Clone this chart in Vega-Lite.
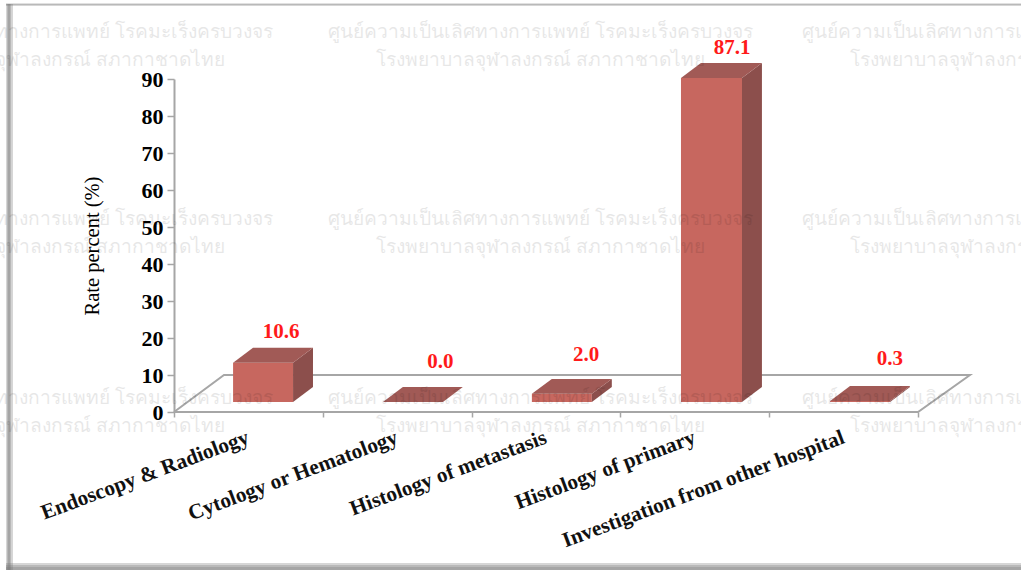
{
"$schema":"https://vega.github.io/schema/vega-lite/v6.json",
"width":847,"height":333,
"autosize":{"type":"none"},
"padding":{"left":174,"top":79,"right":0,"bottom":158},
"background":"white",
"view":{"stroke":null},
"datasets":{
"bars":[
{"category":"Endoscopy & Radiology","value":10.6,"left":0.397,"right":0.8,"base":2.7,"top":13.3,"labelX":0.72,"labelTop":21.5,"tickX":0.5,"catY":-6.8},
{"category":"Cytology or Hematology","value":0.0,"left":1.404,"right":1.807,"base":2.7,"top":2.7,"labelX":1.79,"labelTop":13.4,"tickX":1.5,"catY":-6.8},
{"category":"Histology of metastasis","value":2.0,"left":2.405,"right":2.808,"base":2.7,"top":4.9,"labelX":2.77,"labelTop":15.3,"tickX":2.5,"catY":-6.8},
{"category":"Histology of primary","value":87.1,"left":3.407,"right":3.817,"base":2.7,"top":90.3,"labelX":3.75,"labelTop":98.4,"tickX":3.5,"catY":-6.8},
{"category":"Investigation from other hospital","value":0.3,"left":4.409,"right":4.812,"base":2.7,"top":3.0,"labelX":4.81,"labelTop":14.4,"tickX":4.5,"catY":-6.8}
],
"side":[
{"bar":"a","x":0.8,"low":2.7,"high":13.3},{"bar":"a","x":0.934,"low":6.75,"high":17.35},
{"bar":"b","x":1.807,"low":2.7,"high":2.7},{"bar":"b","x":1.941,"low":6.75,"high":6.75},
{"bar":"c","x":2.808,"low":2.7,"high":4.9},{"bar":"c","x":2.942,"low":6.75,"high":8.95},
{"bar":"d","x":3.817,"low":2.7,"high":90.3},{"bar":"d","x":3.951,"low":6.75,"high":94.35},
{"bar":"e","x":4.812,"low":2.7,"high":3.0},{"bar":"e","x":4.946,"low":6.75,"high":7.05}
],
"topFace":[
{"bar":"a","y":13.3,"from":0.397,"to":0.8},{"bar":"a","y":17.35,"from":0.531,"to":0.934},
{"bar":"b","y":2.7,"from":1.404,"to":1.807},{"bar":"b","y":6.75,"from":1.538,"to":1.941},
{"bar":"c","y":4.9,"from":2.405,"to":2.808},{"bar":"c","y":8.95,"from":2.539,"to":2.942},
{"bar":"d","y":90.3,"from":3.407,"to":3.817},{"bar":"d","y":94.35,"from":3.541,"to":3.951},
{"bar":"e","y":3.0,"from":4.409,"to":4.812},{"bar":"e","y":7.05,"from":4.543,"to":4.946}
],
"floor":[
{"o":1,"x":0,"y":0},{"o":2,"x":0.336,"y":10},{"o":3,"x":5.349,"y":10},{"o":4,"x":5,"y":0},{"o":5,"x":0,"y":0}
],
"frame":[
{"x":-1.129,"x2":-1.082,"y":110.3,"y2":-42.7},
{"x":-1.122,"x2":-1.095,"y":110.3,"y2":-42.7},
{"x":-1.116,"x2":-1.102,"y":110.3,"y2":-42.7},
{"x":-1.129,"x2":5.692,"y":-40.8,"y2":-42.7},
{"x":-1.129,"x2":5.692,"y":-41.35,"y2":-42.7},
{"x":-1.129,"x2":5.692,"y":-41.9,"y2":-42.7},
{"x":-1.129,"x2":5.692,"y":110.5,"y2":109.7},
{"x":-1.129,"x2":5.692,"y":110.3,"y2":110.0}
],
"watermarks":[
{"t":"ศูนย์ความเป็นเลิศทางการแพทย์ โรคมะเร็งครบวงจร","x":-0.766,"y":102.7},
{"t":"โรงพยาบาลจุฬาลงกรณ์ สภากาชาดไทย","x":-0.766,"y":95.1},
{"t":"ศูนย์ความเป็นเลิศทางการแพทย์ โรคมะเร็งครบวงจร","x":2.466,"y":102.7},
{"t":"โรงพยาบาลจุฬาลงกรณ์ สภากาชาดไทย","x":2.466,"y":95.1},
{"t":"ศูนย์ความเป็นเลิศทางการแพทย์ โรคมะเร็งครบวงจร","x":5.645,"y":102.7},
{"t":"โรงพยาบาลจุฬาลงกรณ์ สภากาชาดไทย","x":5.645,"y":95.1},
{"t":"ศูนย์ความเป็นเลิศทางการแพทย์ โรคมะเร็งครบวงจร","x":-0.766,"y":52.2},
{"t":"โรงพยาบาลจุฬาลงกรณ์ สภากาชาดไทย","x":-0.766,"y":44.6},
{"t":"ศูนย์ความเป็นเลิศทางการแพทย์ โรคมะเร็งครบวงจร","x":2.466,"y":52.2},
{"t":"โรงพยาบาลจุฬาลงกรณ์ สภากาชาดไทย","x":2.466,"y":44.6},
{"t":"ศูนย์ความเป็นเลิศทางการแพทย์ โรคมะเร็งครบวงจร","x":5.645,"y":52.2},
{"t":"โรงพยาบาลจุฬาลงกรณ์ สภากาชาดไทย","x":5.645,"y":44.6},
{"t":"ศูนย์ความเป็นเลิศทางการแพทย์ โรคมะเร็งครบวงจร","x":-0.766,"y":3.8},
{"t":"โรงพยาบาลจุฬาลงกรณ์ สภากาชาดไทย","x":-0.766,"y":-3.8},
{"t":"ศูนย์ความเป็นเลิศทางการแพทย์ โรคมะเร็งครบวงจร","x":2.466,"y":3.8},
{"t":"โรงพยาบาลจุฬาลงกรณ์ สภากาชาดไทย","x":2.466,"y":-3.8},
{"t":"ศูนย์ความเป็นเลิศทางการแพทย์ โรคมะเร็งครบวงจร","x":5.645,"y":3.8},
{"t":"โรงพยาบาลจุฬาลงกรณ์ สภากาชาดไทย","x":5.645,"y":-3.8}
]
},
"layer":[
{"data":{"name":"frame"},"mark":{"type":"rect","fill":"#777777","opacity":0.3},
 "encoding":{"x":{"field":"x","type":"quantitative","scale":{"domain":[0,5.692],"nice":false,"zero":false},
   "axis":{"values":[0,1,2,3,4,5],"labels":false,"title":null,"grid":false,"domain":false,"ticks":true,"tickColor":"#a6a6a6","tickWidth":1.5,"tickSize":5}},
  "x2":{"field":"x2"},
  "y":{"field":"y","type":"quantitative","scale":{"domain":[0,90],"nice":false},
   "axis":{"values":[0,10,20,30,40,50,60,70,80,90],"labelOverlap":false,"grid":false,"title":"Rate percent (%)","titleFont":"Liberation Serif","titleFontSize":20.5,"titleFontWeight":"normal","titleColor":"black","titlePadding":39,"labelFont":"Liberation Serif","labelFontSize":22,"labelFontWeight":"bold","labelColor":"black","domainColor":"#a6a6a6","domainWidth":2,"tickColor":"#a6a6a6","tickWidth":1.5,"tickSize":7,"labelPadding":4}},
  "y2":{"field":"y2"}}},
{"data":{"name":"floor"},"mark":{"type":"line","stroke":"#a6a6a6","strokeWidth":2},
 "encoding":{"x":{"field":"x","type":"quantitative","axis":{"values":[0,1,2,3,4,5]}},"y":{"field":"y","type":"quantitative","axis":{"values":[0,10,20,30,40,50,60,70,80,90]}},"order":{"field":"o"}}},
{"data":{"name":"bars"},"mark":{"type":"rect","fill":"#c7675f"},
 "encoding":{"x":{"field":"left","type":"quantitative","axis":{"values":[0,1,2,3,4,5]}},"x2":{"field":"right"},"y":{"field":"base","type":"quantitative","axis":{"values":[0,10,20,30,40,50,60,70,80,90]}},"y2":{"field":"top"}}},
{"data":{"name":"side"},"mark":{"type":"area","orient":"vertical","fill":"#8c4f4c"},
 "encoding":{"x":{"field":"x","type":"quantitative","axis":{"values":[0,1,2,3,4,5]}},"y":{"field":"low","type":"quantitative","axis":{"values":[0,10,20,30,40,50,60,70,80,90]}},"y2":{"field":"high"},"detail":{"field":"bar"}}},
{"data":{"name":"topFace"},"mark":{"type":"area","orient":"horizontal","fill":"#a15a56"},
 "encoding":{"y":{"field":"y","type":"quantitative","axis":{"values":[0,10,20,30,40,50,60,70,80,90]}},"x":{"field":"from","type":"quantitative","axis":{"values":[0,1,2,3,4,5]}},"x2":{"field":"to"},"detail":{"field":"bar"}}},
{"data":{"name":"bars"},"mark":{"type":"text","color":"#ff1a1a","font":"Liberation Serif","fontSize":21,"fontWeight":"bold"},
 "encoding":{"x":{"field":"labelX","type":"quantitative","axis":{"values":[0,1,2,3,4,5]}},"y":{"field":"labelTop","type":"quantitative","axis":{"values":[0,10,20,30,40,50,60,70,80,90]}},"text":{"field":"value","type":"quantitative","format":".1f"}}},
{"data":{"name":"bars"},"mark":{"type":"text","color":"#111111","font":"Liberation Serif","fontSize":21.3,"fontWeight":"bold","angle":339.5,"align":"right","baseline":"middle"},
 "encoding":{"x":{"field":"tickX","type":"quantitative","axis":{"values":[0,1,2,3,4,5]}},"y":{"field":"catY","type":"quantitative","axis":{"values":[0,10,20,30,40,50,60,70,80,90]}},"text":{"field":"category"}}},
{"data":{"name":"watermarks"},"mark":{"type":"text","color":"#000000","opacity":0.09,"font":"Noto Sans","fontSize":19.2},
 "encoding":{"x":{"field":"x","type":"quantitative","axis":{"values":[0,1,2,3,4,5]}},"y":{"field":"y","type":"quantitative","axis":{"values":[0,10,20,30,40,50,60,70,80,90]}},"text":{"field":"t"}}}
]
}
